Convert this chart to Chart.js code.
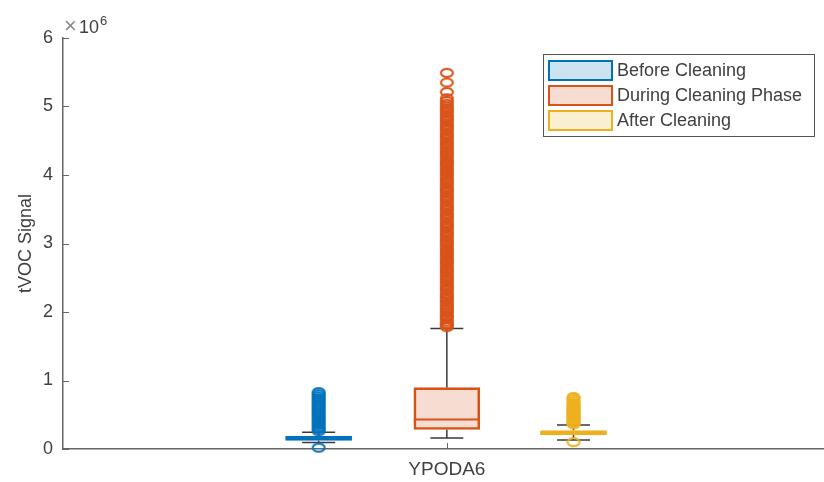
<!DOCTYPE html>
<html>
<head>
<meta charset="utf-8">
<script src="https://cdn.jsdelivr.net/npm/chart.js@4.4.1/dist/chart.umd.min.js"></script>
<style>
  html, body { margin: 0; padding: 0; background: #fff; overflow: hidden; }
  #wrap { width: 824px; height: 482px; overflow: hidden; }
</style>
</head>
<body>
<div id="wrap"><canvas id="tvoc" width="830" height="482"></canvas></div>
<script>
// tVOC signal for sensor YPODA6, values in units of 10^6
const groups = ['Before Cleaning', 'During Cleaning Phase', 'After Cleaning'];
const category = 'YPODA6';
const groupPos = [0.833, 1, 1.165];
const q1 = [0.125, 0.285, 0.205];
const median = [0.155, 0.43, 0.238];
const q3 = [0.185, 0.895, 0.27];
const whiskerLow = [0.095, 0.16, 0.13];
const whiskerHigh = [0.245, 1.76, 0.35];

const outliersBefore = [0.02, 0.26, 0.29, 0.32, 0.35, 0.38, 0.41, 0.44, 0.47, 0.50, 0.53, 0.56,
  0.59, 0.62, 0.65, 0.68, 0.71, 0.74, 0.77, 0.80, 0.83];
const outliersDuring = [1.78, 1.81, 1.83, 1.86, 1.90, 1.93, 1.95, 1.99, 2.02, 2.05, 2.08, 2.11,
  2.15, 2.18, 2.21, 2.24, 2.27, 2.31, 2.34, 2.37, 2.40, 2.44, 2.47, 2.50, 2.53, 2.57, 2.60,
  2.63, 2.66, 2.70, 2.73, 2.76, 2.79, 2.83, 2.86, 2.89, 2.92, 2.96, 2.99, 3.02, 3.05, 3.09,
  3.12, 3.15, 3.18, 3.22, 3.25, 3.28, 3.31, 3.35, 3.38, 3.41, 3.44, 3.48, 3.51, 3.54, 3.57,
  3.61, 3.64, 3.67, 3.70, 3.74, 3.77, 3.80, 3.83, 3.87, 3.90, 3.93, 3.96, 4.00, 4.03, 4.06,
  4.09, 4.13, 4.16, 4.19, 4.22, 4.26, 4.29, 4.32, 4.35, 4.39, 4.42, 4.45, 4.48, 4.52, 4.55,
  4.58, 4.61, 4.65, 4.68, 4.71, 4.74, 4.78, 4.81, 4.84, 4.87, 4.91, 4.94, 4.97, 5.00, 5.04,
  5.08, 5.12, 5.21, 5.35, 5.49];
const outliersAfter = [0.10, 0.36, 0.38, 0.40, 0.42, 0.44, 0.46, 0.48, 0.50, 0.52, 0.54, 0.56,
  0.58, 0.60, 0.62, 0.64, 0.67, 0.70, 0.73, 0.76];
const outliers = [outliersBefore, outliersDuring, outliersAfter];

const yTicks = [0, 1, 2, 3, 4, 5, 6];

const lineColors = ['#0072BD', '#D95319', '#EDB120'];
const fillColors = ['rgba(0,114,189,0.2)', 'rgba(217,83,25,0.2)', 'rgba(237,177,32,0.2)'];
const axisColor = '#666';
const textColor = '#404040';
const FONT = '"Liberation Sans", Arial, Helvetica, sans-serif';

// hollow marker, a little wider than tall like the exported figure
function ringMarker(color) {
  const c = document.createElement('canvas');
  c.width = 16; c.height = 12;
  const g = c.getContext('2d');
  g.strokeStyle = color;
  g.lineWidth = 2;
  g.beginPath();
  g.ellipse(8, 6, 6, 4, 0, 0, Math.PI * 2);
  g.stroke();
  return c;
}

const boxSets = groups.map((name, i) => ({
  type: 'bar',
  label: name,
  data: [{ x: groupPos[i], y: [q1[i], q3[i]] }],
  backgroundColor: fillColors[i],
  borderColor: lineColors[i],
  borderWidth: 2,
  borderSkipped: false,
  barThickness: 66,
  grouped: false,
  order: 2
}));

const outlierSets = groups.map((name, i) => ({
  type: 'scatter',
  label: name + ' outliers',
  data: outliers[i].map(v => ({ x: groupPos[i], y: v })),
  pointStyle: ringMarker(lineColors[i]),
  pointRadius: 6,
  clip: 12,
  order: 1
}));

const boxPlugin = {
  id: 'boxParts',
  beforeDatasetsDraw(chart) {
    // whiskers and caps, under the boxes
    const ctx = chart.ctx;
    const y = chart.scales.y;
    ctx.save();
    ctx.strokeStyle = '#3a3a3a';
    ctx.lineWidth = 1.5;
    groups.forEach((_, i) => {
      const bar = chart.getDatasetMeta(i).data[0];
      const cx = bar.x;
      const half = bar.width / 4;
      ctx.beginPath();
      ctx.moveTo(cx, y.getPixelForValue(q3[i]));
      ctx.lineTo(cx, y.getPixelForValue(whiskerHigh[i]));
      ctx.moveTo(cx, y.getPixelForValue(q1[i]));
      ctx.lineTo(cx, y.getPixelForValue(whiskerLow[i]));
      [whiskerHigh[i], whiskerLow[i]].forEach(v => {
        const py = y.getPixelForValue(v);
        ctx.moveTo(cx - half, py);
        ctx.lineTo(cx + half, py);
      });
      ctx.stroke();
    });
    ctx.restore();
  },
  afterDatasetDraw(chart, args) {
    // median line on top of each box
    const i = args.index;
    if (i >= groups.length) return;
    const bar = args.meta.data[0];
    const py = chart.scales.y.getPixelForValue(median[i]);
    const ctx = chart.ctx;
    ctx.save();
    ctx.strokeStyle = lineColors[i];
    ctx.lineWidth = 2;
    ctx.beginPath();
    ctx.moveTo(bar.x - bar.width / 2, py);
    ctx.lineTo(bar.x + bar.width / 2, py);
    ctx.stroke();
    ctx.restore();
  },
  afterDraw(chart) {
    const ctx = chart.ctx;
    const { left, bottom } = chart.chartArea;
    const x = chart.scales.x, y = chart.scales.y;
    ctx.save();

    // inward tick marks
    ctx.strokeStyle = axisColor;
    ctx.lineWidth = 1;
    ctx.beginPath();
    yTicks.forEach(t => {
      const py = Math.round(y.getPixelForValue(t)) + 0.5;
      ctx.moveTo(left, py);
      ctx.lineTo(left + 6, py);
    });
    const tx = Math.round(x.getPixelForValue(1)) + 0.5;
    ctx.moveTo(tx, bottom);
    ctx.lineTo(tx, bottom - 6);
    ctx.stroke();

    // exponent label
    const topY = y.getPixelForValue(6);
    ctx.fillStyle = '#8a8a8a';
    ctx.font = '22px ' + FONT;
    ctx.textBaseline = 'alphabetic';
    ctx.textAlign = 'left';
    ctx.fillText('\u00d7', left + 1, topY - 5);
    ctx.fillStyle = textColor;
    ctx.font = '18px ' + FONT;
    ctx.fillText('10', left + 16, topY - 5);
    ctx.font = '13px ' + FONT;
    ctx.fillText('6', left + 37, topY - 13);

    // legend box
    const lx = 543, ly = 54, lw = 271, lh = 82;
    ctx.fillStyle = '#fff';
    ctx.fillRect(lx, ly, lw, lh);
    ctx.strokeStyle = '#555';
    ctx.lineWidth = 1;
    ctx.strokeRect(lx + 0.5, ly + 0.5, lw, lh);
    ctx.font = '18px ' + FONT;
    ctx.textBaseline = 'middle';
    groups.forEach((name, i) => {
      const cy = ly + 16 + i * 25;
      ctx.fillStyle = fillColors[i];
      ctx.fillRect(lx + 6, cy - 9, 63, 19);
      ctx.strokeStyle = lineColors[i];
      ctx.lineWidth = 2;
      ctx.strokeRect(lx + 6, cy - 9, 63, 19);
      ctx.fillStyle = textColor;
      ctx.fillText(name, lx + 74, cy + 1);
    });
    ctx.restore();
  }
};

new Chart(document.getElementById('tvoc'), {
  data: { datasets: [...boxSets, ...outlierSets] },
  options: {
    responsive: false,
    animation: false,
    layout: { padding: { top: 38, right: 0, left: 0, bottom: 0 } },
    plugins: {
      legend: { display: false },
      tooltip: { enabled: false }
    },
    scales: {
      x: {
        type: 'linear',
        offset: false,
        min: 0.5,
        max: 1.49,
        afterBuildTicks: scale => { scale.ticks = [{ value: 1 }]; },
        afterFit: scale => { scale.height = 33; },
        grid: { display: false, drawTicks: false },
        border: { display: true, color: axisColor, width: 1.5 },
        ticks: {
          callback: () => category,
          color: textColor,
          font: { family: FONT, size: 19 },
          padding: 9,
          maxRotation: 0
        }
      },
      y: {
        min: 0,
        max: 6,
        afterBuildTicks: scale => { scale.ticks = yTicks.map(v => ({ value: v })); },
        afterFit: scale => { scale.width = 63; },
        grid: { display: false, drawTicks: false },
        border: { display: true, color: axisColor, width: 1.5 },
        ticks: {
          color: textColor,
          font: { family: FONT, size: 18 },
          padding: 10
        },
        title: {
          display: true,
          text: 'tVOC Signal',
          color: textColor,
          font: { family: FONT, size: 18 },
          padding: { top: 15, bottom: 0 }
        }
      }
    }
  },
  plugins: [boxPlugin]
});
</script>
</body>
</html>
